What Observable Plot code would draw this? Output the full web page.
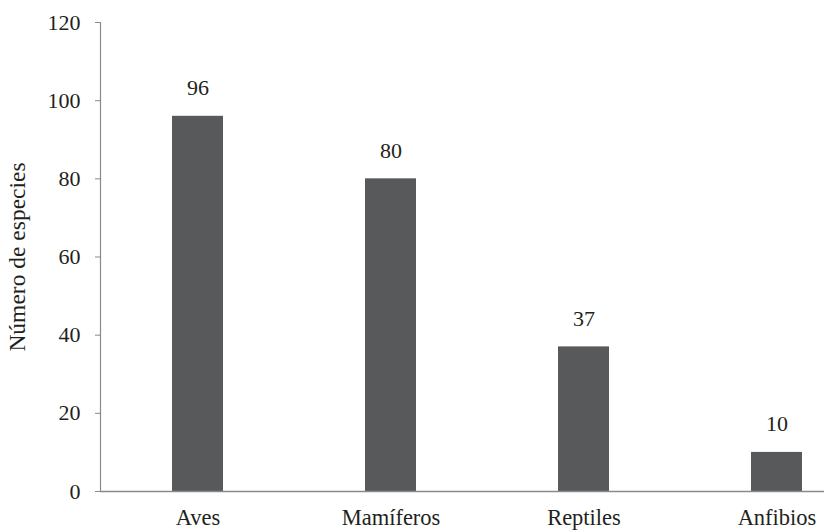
<!DOCTYPE html>
<html>
<head>
<meta charset="utf-8">
<script src="https://cdn.jsdelivr.net/npm/d3@7"></script>
<script src="https://cdn.jsdelivr.net/npm/@observablehq/plot@0.6"></script>
<style>
  html, body { margin: 0; padding: 0; background: #fff; overflow: hidden; }
  #chart svg { overflow: hidden; font-family: "Liberation Serif", serif; }
</style>
</head>
<body>
<div id="chart"></div>
<script>
// Species counts per vertebrate group
const groups = ["Aves", "Mamíferos", "Reptiles", "Anfibios"];
const counts = [96, 80, 37, 10];
const yTicks = [0, 20, 40, 60, 80, 100, 120];

const data = groups.map((g, i) => ({group: g, count: counts[i]}));

const font = "Liberation Serif";
const axisColor = "#8a8a8a";
const textColor = "#231f20";

const chart = Plot.plot({
  width: 824,
  height: 531,
  marginLeft: 100,
  marginRight: -49,
  marginTop: 22,
  marginBottom: 40,
  style: {fontFamily: font, fontSize: "22px", color: textColor, background: "#fff", overflow: "hidden"},
  x: {domain: groups, paddingInner: 0.736, paddingOuter: 0.368, label: null},
  y: {domain: [0, 120], label: null},
  marks: [
    Plot.barY(data, {x: "group", y: "count", fill: "#58595b"}),
    Plot.text(data, {x: "group", y: "count", text: d => String(d.count), dy: -28, fill: textColor, fontSize: 22, fontFamily: font}),
    Plot.frame({anchor: "left", stroke: axisColor, strokeWidth: 1.2}),
    Plot.ruleY([0], {stroke: axisColor, strokeWidth: 1.6}),
    Plot.axisY({
      ticks: yTicks,
      tickSize: 5,
      tickPadding: 15,
      stroke: axisColor,
      fill: textColor,
      fontSize: 22,
      fontFamily: font,
      label: null
    }),
    Plot.axisY({
      ticks: [],
      fontSize: 23.5,
      fontFamily: font,
      fill: textColor,
      label: "Número de especies",
      labelAnchor: "center",
      labelArrow: "none",
      labelOffset: 92
    }),
    Plot.axisX({
      tickSize: 0,
      tickPadding: 18,
      fill: textColor,
      fontSize: 22.5,
      fontFamily: font,
      label: null
    })
  ]
});

document.getElementById("chart").appendChild(chart);
</script>
</body>
</html>
